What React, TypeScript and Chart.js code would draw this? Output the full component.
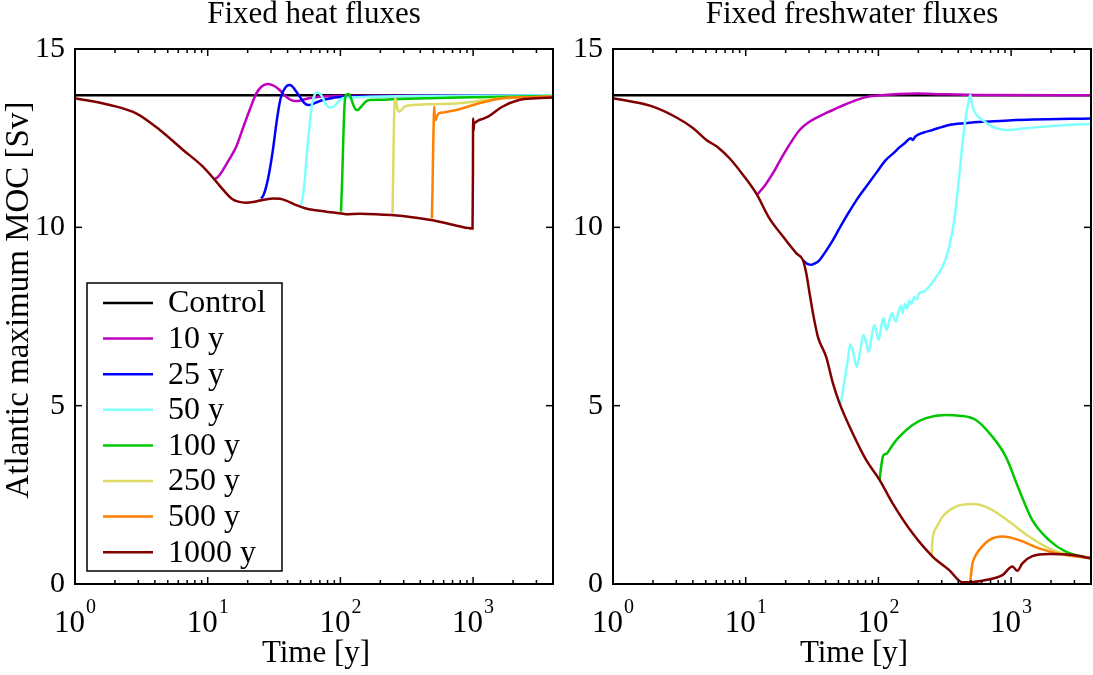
import React, { useEffect, useRef } from 'react';
import { Chart, registerables } from 'chart.js';

Chart.register(...registerables);

const FONT = '"Liberation Serif", "Times New Roman", serif';

// ---------- axis / tick data ----------
const X_MIN = 1;
const X_MAX = 4000;
const Y_MIN = 0;
const Y_MAX = 15;
const Y_TICKS = [0, 5, 10, 15];
const X_DECADES = [1, 10, 100, 1000];
const X_EXPONENTS = ['0', '1', '2', '3'];

// ---------- series names / colours ----------
const SERIES_LABELS = ['Control', '10 y', '25 y', '50 y', '100 y', '250 y', '500 y', '1000 y'];
const SERIES_COLORS = ['#000000', '#bf00bf', '#0000ff', '#80ffff', '#00c800', '#dcdc64', '#ff8000', '#800000'];

// ---------- control ----------
const controlT = [1, 4000];
const controlV = [13.7, 13.7];

// ---------- Fixed heat fluxes ----------
const heatT10 = [11.3, 12, 13, 14.5, 16.4, 18.5, 20.7, 23.2, 25.5, 28.4, 31.5, 34.8, 38, 41.4, 45, 49.2, 55, 62, 90, 200, 4000];
const heatV10 = [11.35, 11.42, 11.6, 11.9, 12.26, 12.8, 13.29, 13.75, 13.95, 14.02, 13.97, 13.85, 13.7, 13.59, 13.54, 13.55, 13.6, 13.64, 13.68, 13.69, 13.7];

const heatT25 = [25.3, 26.3, 27.6, 29.3, 31, 32.9, 34.8, 36.3, 37.9, 39.6, 41.4, 43.2, 45, 47.8, 50.7, 53.7, 56.8, 60.5, 65.6, 78, 104, 300, 4000];
const heatV25 = [10.81, 10.9, 11.14, 11.6, 12.17, 12.9, 13.48, 13.74, 13.88, 13.97, 13.99, 13.96, 13.88, 13.74, 13.6, 13.48, 13.43, 13.44, 13.5, 13.59, 13.66, 13.68, 13.7];

const heatT50 = [49.8, 51.5, 53.6, 56, 58.5, 60.2, 62, 64.2, 66.4, 68.8, 71.6, 76.5, 82.6, 87.5, 92.7, 98, 104, 120, 138, 400, 4000];
const heatV50 = [10.62, 10.75, 11.23, 12.1, 12.82, 13.28, 13.57, 13.72, 13.78, 13.77, 13.71, 13.5, 13.36, 13.37, 13.45, 13.55, 13.62, 13.64, 13.65, 13.68, 13.7];

const heatT100 = [101, 103, 105, 107, 109, 112, 116, 119, 122, 127, 131, 135, 140, 147, 155, 165, 200, 247, 785, 4000];
const heatV100 = [10.44, 11.3, 12.4, 13.3, 13.66, 13.73, 13.74, 13.66, 13.55, 13.38, 13.3, 13.29, 13.34, 13.43, 13.52, 13.57, 13.58, 13.59, 13.64, 13.68];

const heatT250 = [247, 250, 253, 256, 259, 264, 270, 278, 290, 303, 350, 441, 785, 1396, 2500, 4000];
const heatV250 = [10.39, 11.6, 12.8, 13.45, 13.62, 13.5, 13.3, 13.24, 13.3, 13.38, 13.43, 13.45, 13.48, 13.59, 13.64, 13.67];

const heatT500 = [489, 494, 500, 505, 509, 514, 520, 535, 555, 600, 641, 785, 1109, 1660, 2500, 4000];
const heatV500 = [10.25, 11.0, 12.2, 13.0, 13.38, 13.1, 13.0, 13.12, 13.2, 13.22, 13.24, 13.31, 13.48, 13.62, 13.65, 13.67];

const heatT1000 = [1, 1.83, 2.91, 4.36, 6.52, 9.2, 11.6, 13.3, 15.1, 17, 19.5, 22, 24.6, 28, 31, 35, 39, 46, 55, 65, 78, 92, 110, 140, 185, 294, 494, 785, 990, 997, 1000, 1008, 1015, 1030, 1100, 1200, 1318, 1660, 2217, 3000, 4000];
const heatV1000 = [13.62, 13.43, 13.19, 12.73, 12.17, 11.7, 11.28, 11.02, 10.81, 10.72, 10.69, 10.71, 10.75, 10.79, 10.81, 10.8, 10.75, 10.63, 10.53, 10.48, 10.44, 10.41, 10.37, 10.38, 10.37, 10.32, 10.2, 10.03, 9.97, 11.5, 13.06, 12.7, 12.88, 12.93, 13.0, 13.05, 13.12, 13.38, 13.57, 13.62, 13.64];

// ---------- Fixed freshwater fluxes ----------
const freshT10 = [12.3, 14, 16, 18, 20.2, 22.8, 25.5, 28.6, 34, 40, 45.4, 55, 65, 80.8, 110, 144, 200, 256, 600, 4000];
const freshV10 = [10.93, 11.18, 11.51, 11.85, 12.17, 12.48, 12.73, 12.9, 13.07, 13.2, 13.29, 13.43, 13.54, 13.65, 13.71, 13.74, 13.75, 13.74, 13.71, 13.7];

const freshT25 = [27, 28.5, 29.8, 31.2, 32.8, 34.5, 36, 40, 45.4, 50.5, 57.2, 68, 80.8, 96, 114, 130, 144, 160, 175, 181, 190, 220, 256, 300, 342, 450, 608, 900, 1445, 4000];
const freshV25 = [9.08, 9.0, 8.96, 8.95, 8.98, 9.02, 9.08, 9.32, 9.64, 9.95, 10.3, 10.75, 11.14, 11.52, 11.89, 12.08, 12.24, 12.38, 12.5, 12.45, 12.55, 12.66, 12.73, 12.81, 12.87, 12.92, 12.96, 12.99, 13.02, 13.05];

const freshT50 = [52, 55, 58.8, 61.3, 65, 68.7, 73, 77.1, 81, 84.6, 89, 93.3, 97, 100.5, 105, 109, 112, 115, 121, 127, 131, 136, 142, 148, 152, 158, 164, 171, 178, 186, 194, 203, 220, 242, 271, 305, 342, 373, 406, 430, 456, 480, 492, 500, 512, 550, 608, 724, 912, 1290, 2578, 4000];
const freshV50 = [5.05, 5.6, 6.28, 6.72, 6.45, 6.09, 6.55, 6.98, 6.75, 6.51, 6.95, 7.26, 7.05, 6.84, 7.2, 7.45, 7.3, 7.12, 7.4, 7.59, 7.45, 7.36, 7.65, 7.8, 7.6, 7.85, 7.72, 7.95, 7.85, 8.05, 7.98, 8.15, 8.2, 8.34, 8.6, 8.9, 9.46, 10.2, 11.42, 12.36, 13.1, 13.55, 13.71, 13.6, 13.38, 13.15, 13.01, 12.82, 12.73, 12.78, 12.87, 12.9];

const freshT100 = [102, 105, 108, 112, 116, 121, 128, 144, 181, 228, 323, 406, 542, 723, 912, 1148, 1445, 1931, 2578, 4000];
const freshV100 = [2.92, 3.3, 3.57, 3.64, 3.66, 3.76, 3.9, 4.13, 4.46, 4.65, 4.74, 4.72, 4.6, 4.13, 3.57, 2.64, 1.79, 1.23, 0.91, 0.72];

const freshT250 = [252, 255, 260, 280, 305, 384, 512, 684, 966, 1366, 1931, 2800, 4000];
const freshV250 = [0.81, 1.2, 1.4, 1.65, 1.89, 2.17, 2.24, 2.12, 1.75, 1.33, 1.0, 0.8, 0.72];

const freshT500 = [492, 500, 512, 540, 574, 684, 860, 1148, 1622, 2578, 4000];
const freshV500 = [0.07, 0.3, 0.58, 0.8, 0.95, 1.23, 1.33, 1.23, 1.0, 0.81, 0.74];

const freshT1000 = [1, 1.95, 3.01, 4.02, 5.06, 6.19, 7.58, 9.55, 12.0, 15.1, 19.1, 24.1, 27, 28.6, 30.3, 32.1, 35, 40.4, 45.4, 50.9, 64.1, 80.8, 102, 128, 181, 256, 342, 430, 483, 645, 860, 1024, 1115, 1216, 1445, 1931, 2891, 4000];
const freshV1000 = [13.62, 13.4, 13.08, 12.78, 12.45, 12.24, 11.93, 11.47, 10.95, 10.25, 9.74, 9.27, 9.08, 8.71, 8.15, 7.6, 6.93, 6.37, 5.63, 5.07, 4.22, 3.48, 2.92, 2.26, 1.42, 0.77, 0.39, 0.05, 0.05, 0.11, 0.25, 0.49, 0.37, 0.58, 0.78, 0.84, 0.81, 0.72];

const HEAT_T = [controlT, heatT10, heatT25, heatT50, heatT100, heatT250, heatT500, heatT1000];
const HEAT_V = [controlV, heatV10, heatV25, heatV50, heatV100, heatV250, heatV500, heatV1000];
const FRESH_T = [controlT, freshT10, freshT25, freshT50, freshT100, freshT250, freshT500, freshT1000];
const FRESH_V = [controlV, freshV10, freshV25, freshV50, freshV100, freshV250, freshV500, freshV1000];

function buildDatasets(ts: number[][], vs: number[][]) {
  return ts.map((t, i) => ({
    label: SERIES_LABELS[i],
    data: t.map((x, j) => ({ x, y: vs[i][j] })),
    borderColor: SERIES_COLORS[i],
    backgroundColor: SERIES_COLORS[i],
    borderWidth: 2.5,
    pointRadius: 0,
    cubicInterpolationMode: 'monotone' as const,
    fill: false,
    order: ts.length - i,
  }));
}

const decorPlugin = {
  id: 'decor',
  afterDatasetsDraw(chart: any, _args: any, opts: any) {
    const { ctx, chartArea: a, scales } = chart;
    const xs = scales.x;
    const ys = scales.y;
    ctx.save();
    ctx.strokeStyle = '#000';
    ctx.lineCap = 'butt';
    ctx.lineWidth = 1.5;
    const seg = (x1: number, y1: number, x2: number, y2: number) => {
      ctx.beginPath();
      ctx.moveTo(x1, y1);
      ctx.lineTo(x2, y2);
      ctx.stroke();
    };
    // y ticks (inward, both sides)
    for (const v of Y_TICKS) {
      const py = ys.getPixelForValue(v);
      seg(a.left, py, a.left + 7, py);
      seg(a.right, py, a.right - 7, py);
    }
    // x ticks (log, inward, top & bottom)
    for (const d of X_DECADES) {
      for (let m = 1; m <= 9; m++) {
        const val = m * d;
        if (val > X_MAX) break;
        const px = xs.getPixelForValue(val);
        const len = m === 1 ? 7 : 4;
        seg(px, a.bottom, px, a.bottom - len);
        seg(px, a.top, px, a.top + len);
      }
    }
    // frame
    ctx.lineWidth = 2;
    ctx.strokeRect(a.left, a.top, a.right - a.left, a.bottom - a.top);

    ctx.fillStyle = '#000';
    // x tick labels 10^k
    X_DECADES.forEach((d, i) => {
      const px = xs.getPixelForValue(d);
      ctx.font = `31px ${FONT}`;
      const wBase = ctx.measureText('10').width;
      ctx.font = `20px ${FONT}`;
      const wExp = ctx.measureText(X_EXPONENTS[i]).width;
      const start = px - (wBase + wExp + 1) / 2;
      ctx.textAlign = 'left';
      ctx.textBaseline = 'alphabetic';
      ctx.font = `31px ${FONT}`;
      ctx.fillText('10', start, 632);
      ctx.font = `20px ${FONT}`;
      ctx.fillText(X_EXPONENTS[i], start + wBase + 1, 613);
    });
    const cx = (a.left + a.right) / 2;
    // x axis title
    ctx.font = `31px ${FONT}`;
    ctx.textAlign = 'center';
    ctx.fillText('Time [y]', cx + 2, 662);
    // panel title
    ctx.fillText(opts.title, cx, 23);

    // y axis title
    if (opts.yTitle) {
      ctx.save();
      ctx.translate(19, 300);
      ctx.rotate(-Math.PI / 2);
      ctx.textBaseline = 'middle';
      ctx.font = `33px ${FONT}`;
      ctx.fillText(opts.yTitle, 0, 0);
      ctx.restore();
    }

    // legend
    if (opts.legend) {
      const bx = 87, by = 283, bw = 195, bh = 288;
      ctx.fillStyle = '#fff';
      ctx.fillRect(bx, by, bw, bh);
      ctx.lineWidth = 1.5;
      ctx.strokeStyle = '#000';
      ctx.strokeRect(bx, by, bw, bh);
      chart.data.datasets.forEach((ds: any, i: number) => {
        const ry = 303 + i * 35.6;
        ctx.strokeStyle = ds.borderColor;
        ctx.lineWidth = 2.5;
        seg(103, ry, 153, ry);
        ctx.fillStyle = '#000';
        ctx.font = `32px ${FONT}`;
        ctx.textAlign = 'left';
        ctx.textBaseline = 'middle';
        ctx.fillText(ds.label, 168, ry + 1);
      });
    }
    ctx.restore();
  },
};

function makeConfig(ts: number[][], vs: number[][], yAxisWidth: number, padRight: number, decor: any) {
  return {
    type: 'line' as const,
    data: { datasets: buildDatasets(ts, vs) },
    options: {
      animation: false as const,
      responsive: false,
      maintainAspectRatio: false,
      layout: { padding: { top: 49, right: padRight, bottom: 0, left: 0 } },
      plugins: {
        legend: { display: false },
        tooltip: { enabled: false },
        title: { display: false },
        decor,
      },
      scales: {
        x: {
          type: 'logarithmic' as const,
          min: X_MIN,
          max: X_MAX,
          grid: { display: false },
          border: { display: false },
          ticks: { display: false },
          afterFit: (s: any) => { s.height = 91; },
        },
        y: {
          type: 'linear' as const,
          min: Y_MIN,
          max: Y_MAX,
          grid: { display: false, drawTicks: false },
          border: { display: false },
          ticks: {
            stepSize: 5,
            color: '#000',
            padding: 10,
            font: { family: FONT, size: 30 },
          },
          afterFit: (s: any) => { s.width = yAxisWidth; },
        },
      },
    },
    plugins: [decorPlugin],
  };
}

export default function App() {
  const leftRef = useRef<HTMLCanvasElement>(null);
  const rightRef = useRef<HTMLCanvasElement>(null);

  useEffect(() => {
    const left = new Chart(leftRef.current as HTMLCanvasElement, makeConfig(HEAT_T, HEAT_V, 75, 7, {
      title: 'Fixed heat fluxes',
      yTitle: 'Atlantic maximum MOC [Sv]',
      legend: true,
    }) as any);
    const right = new Chart(rightRef.current as HTMLCanvasElement, makeConfig(FRESH_T, FRESH_V, 53, 2, {
      title: 'Fixed freshwater fluxes',
      yTitle: '',
      legend: false,
    }) as any);
    return () => {
      left.destroy();
      right.destroy();
    };
  }, []);

  return (
    <div style={{ position: 'fixed', left: 0, top: 0, width: 1093, height: 675, background: '#fff' }}>
      <canvas ref={leftRef} width={560} height={675} style={{ position: 'absolute', left: 0, top: 0 }} />
      <canvas ref={rightRef} width={533} height={675} style={{ position: 'absolute', left: 560, top: 0 }} />
    </div>
  );
}
